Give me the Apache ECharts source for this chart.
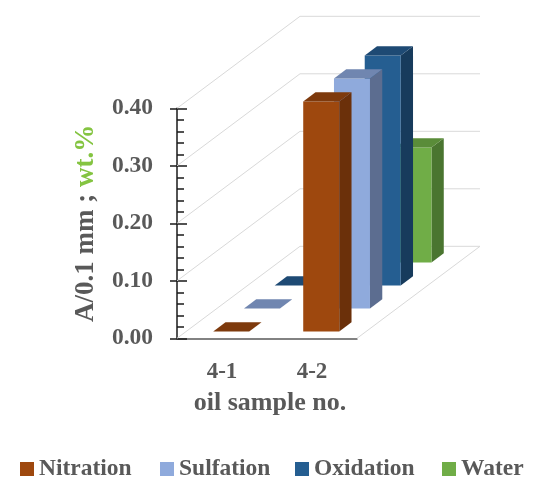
<!DOCTYPE html>
<html>
<head>
<meta charset="utf-8">
<script src="https://cdn.jsdelivr.net/npm/echarts@6/dist/echarts.min.js"></script>
<style>
  html, body { margin: 0; padding: 0; background: #fff; }
  #chart { width: 543px; height: 478px; }
</style>
</head>
<body>
<div id="chart"></div>
<script>
// Oil sample measurements
const categories = ['4-1', '4-2'];
const seriesNames = ['Nitration', 'Sulfation', 'Oxidation', 'Water'];
const nitration = [0, 0.40];
const sulfation = [0, 0.40];
const oxidation = [0, 0.40];
const water = [0, 0.20];
const yTicks = [0, 0.1, 0.2, 0.3, 0.4];

// Oblique "3D" look: depth vector of the floor in pixels
const DEPTH = [123, -92];
const ROW = 0.25;        // each series occupies a quarter of the depth
const ROW_INSET = 0.075; // gap in front of a bar inside its row
const BAR_DEPTH = 0.1;   // bar thickness as fraction of the depth
const BAR_WIDTH = 0.4;   // bar width as fraction of the category band

const FONT = '"Liberation Serif", "Times New Roman", serif';
const TEXT = '#595959';

const palette = [
  { front: '#9e480e', side: '#6b300a', top: '#7e3a0d' },
  { front: '#8faadc', side: '#5c6d90', top: '#7086b0' },
  { front: '#255e91', side: '#173b5c', top: '#1e4a74' },
  { front: '#70ad47', side: '#4a7530', top: '#5a8c39' }
];
const values = [nitration, sulfation, oxidation, water];

function barRenderer(row) {
  const c = palette[row];
  return function (params, api) {
    const cat = api.value(0);
    const v = api.value(1);
    const base = api.coord([cat, 0]);
    const top = api.coord([cat, v]);
    const bw = api.size([1, 0])[0] * BAR_WIDTH;
    const z0 = row * ROW + ROW_INSET;
    const ox = DEPTH[0] * z0, oy = DEPTH[1] * z0;
    const ddx = DEPTH[0] * BAR_DEPTH, ddy = DEPTH[1] * BAR_DEPTH;
    const x0 = base[0] - bw / 2 + ox, x1 = x0 + bw;
    const yb = base[1] + oy, yt = top[1] + oy;
    return {
      type: 'group',
      children: [
        { type: 'polygon', shape: { points: [[x1, yb], [x1 + ddx, yb + ddy], [x1 + ddx, yt + ddy], [x1, yt]] },
          style: { fill: c.side } },
        { type: 'rect', shape: { x: x0, y: yt, width: bw, height: yb - yt },
          style: { fill: c.front } },
        { type: 'polygon', shape: { points: [[x0, yt], [x1, yt], [x1 + ddx, yt + ddy], [x0 + ddx, yt + ddy]] },
          style: { fill: c.top } }
      ]
    };
  };
}

// Side wall, back wall and floor outline
function wallRenderer(params, api) {
  const v = api.value(1);
  const cw = api.size([1, 0])[0];
  const pl = api.coord([0, v]);
  const pr = api.coord([categories.length - 1, v]);
  const xL = pl[0] - cw / 2, xR = pr[0] + cw / 2, y = pl[1];
  const style = { stroke: '#d9d9d9', lineWidth: 1, fill: null };
  const children = [
    { type: 'polyline', shape: { points: [[xL, y], [xL + DEPTH[0], y + DEPTH[1]], [xR + DEPTH[0], y + DEPTH[1]]] }, style: style }
  ];
  if (v === 0) {
    children.push({ type: 'line', shape: { x1: xR, y1: y, x2: xR + DEPTH[0], y2: y + DEPTH[1] }, style: style });
  }
  return { type: 'group', children: children };
}

const series = [{
  type: 'custom',
  name: 'walls',
  coordinateSystem: 'cartesian2d',
  renderItem: wallRenderer,
  data: yTicks.map(t => [0, t]),
  z: 1,
  silent: true,
  clip: false
}];
seriesNames.forEach((name, row) => {
  series.push({
    type: 'custom',
    name: name,
    coordinateSystem: 'cartesian2d',
    renderItem: barRenderer(row),
    itemStyle: { color: palette[row].front },
    data: values[row].map((v, i) => [i, v]),
    z: 10 + (seriesNames.length - row),
    clip: false
  });
});

const legendLeft = [15, 155, 290, 437];
const legends = seriesNames.map((name, i) => ({
  data: [name],
  left: legendLeft[i],
  top: 452,
  icon: 'rect',
  itemWidth: 14,
  itemHeight: 14,
  itemGap: 0,
  selectedMode: false,
  textStyle: { color: TEXT, fontFamily: FONT, fontWeight: 'bold', fontSize: 23.5, lineHeight: 24 }
}));

const chart = echarts.init(document.getElementById('chart'), null, { renderer: 'canvas' });
chart.setOption({
  animation: false,
  backgroundColor: '#fff',
  grid: { left: 177, top: 108.3, width: 180, height: 230 },
  legend: legends,
  xAxis: {
    type: 'category',
    data: categories,
    boundaryGap: true,
    axisLine: { lineStyle: { color: '#595959', width: 1.5 } },
    axisTick: { show: false },
    axisLabel: { color: TEXT, fontFamily: FONT, fontWeight: 'bold', fontSize: 23, margin: 22 },
    name: 'oil sample no.',
    nameLocation: 'middle',
    nameGap: 52,
    nameTextStyle: { color: TEXT, fontFamily: FONT, fontWeight: 'bold', fontSize: 26, padding: [0, 0, 0, 6] },
    splitLine: { show: false }
  },
  yAxis: [{
    type: 'value',
    min: 0, max: 0.4, interval: 0.1,
    axisLine: { show: true, lineStyle: { color: '#1a1a1a', width: 1.5 } },
    axisTick: { show: true, inside: true, length: 10, lineStyle: { color: '#1a1a1a', width: 1.5 } },
    minorTick: { show: true, splitNumber: 5, length: 7, lineStyle: { color: '#1a1a1a', width: 1.5 } },
    axisLabel: { color: TEXT, fontFamily: FONT, fontWeight: 'bold', fontSize: 23.5, margin: 24,
      formatter: v => v.toFixed(2) },
    splitLine: { show: false },
    name: '{a|A/0.1 mm ; }{b|wt.%}',
    nameLocation: 'middle',
    nameGap: 77,
    nameTextStyle: {
      rich: {
        a: { color: TEXT, fontFamily: FONT, fontWeight: 'bold', fontSize: 27 },
        b: { color: '#84c441', fontFamily: FONT, fontWeight: 'bold', fontSize: 27 }
      }
    }
  }, {
    type: 'value',
    min: 0, max: 0.4, interval: 0.1,
    position: 'left',
    axisLine: { show: false },
    axisTick: { show: true, inside: false, length: 7, lineStyle: { color: '#1a1a1a', width: 1.5 } },
    axisLabel: { show: false },
    splitLine: { show: false }
  }],
  series: series
});
</script>
</body>
</html>
